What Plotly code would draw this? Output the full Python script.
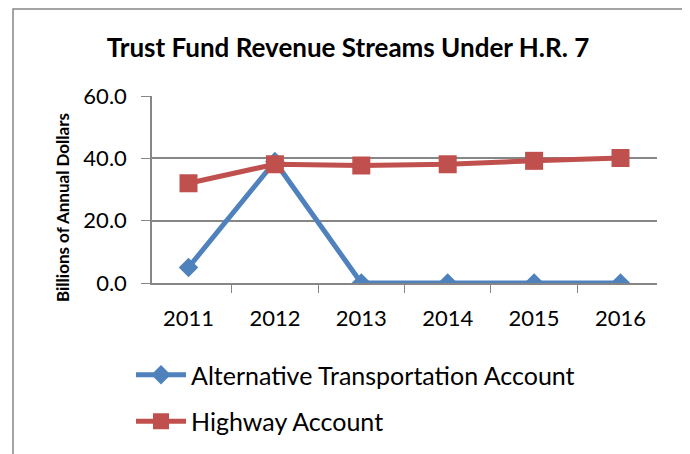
import plotly.graph_objects as go

years = ["2011", "2012", "2013", "2014", "2015", "2016"]
alt_transport = [5.0, 39.0, 0.0, 0.0, 0.0, 0.0]
highway = [32.0, 38.1, 37.7, 38.1, 39.2, 40.1]
y_ticks = [0, 20, 40, 60]

W, H = 690, 454
OFF = 8  # page body margin offset
# target pixel positions in the screenshot
PL, PR, PT, PB = 152, 657, 96, 283
L = PL - OFF
T = PT - OFF
R = W - (PR - OFF)
B = H - (PB - OFF)
pw, ph = W - L - R, H - T - B

def px(x):
    return (x - OFF - L) / pw

def py(y):
    return (H - B - (y - OFF)) / ph

fig = go.Figure()
fig.add_trace(go.Scatter(
    x=years, y=alt_transport, mode="lines+markers", name="Alternative Transportation Account",
    line=dict(color="#4F81BD", width=5), marker=dict(symbol="diamond", size=15, color="#4F81BD"),
    legendgroup="a"))
fig.add_trace(go.Scatter(
    x=years, y=highway, mode="lines+markers", name="Highway Account",
    line=dict(color="#C0504D", width=5), marker=dict(symbol="square", size=18, color="#C0504D"),
    legendgroup="b"))

font = "Lato, 'Open Sans', sans-serif"
fig.update_layout(
    width=W, height=H, margin=dict(l=L, r=R, t=T, b=B),
    paper_bgcolor="white", plot_bgcolor="white",
    font=dict(family=font, color="black", size=22),
    title=dict(text="<b>Trust Fund Revenue Streams Under H.R. 7</b>", x=(348 - OFF) / W, xanchor="center",
               y=1 - (48 - OFF) / H, yanchor="middle", font=dict(size=26)),
    xaxis=dict(type="category", tickson="boundaries", ticks="outside", ticklen=8, tickcolor="#868686",
               showline=True, linecolor="#868686", linewidth=1.5, showgrid=False,
               tickfont=dict(size=22), ticklabelstandoff=15, fixedrange=True),
    yaxis=dict(range=[0, 60], tickvals=y_ticks, tickformat=".1f", ticks="outside", ticklen=9,
               tickcolor="#868686", showline=True, linecolor="#868686", linewidth=1.5,
               gridcolor="#868686", gridwidth=1.5, zeroline=False, tickfont=dict(size=22),
               ticklabelstandoff=10),
    legend=dict(x=px(131), y=py(352), xanchor="left", yanchor="top", orientation="v",
                font=dict(size=25), tracegroupgap=11, itemwidth=50, bgcolor="rgba(0,0,0,0)"),
    showlegend=True,
)
fig.add_annotation(text="<b>Billions of Annual Dollars</b>", xref="paper", yref="paper",
                   x=px(62), y=py(208), textangle=-90, showarrow=False, font=dict(size=17),
                   xanchor="center", yanchor="middle")
fig.add_shape(type="rect", xref="paper", yref="paper", x0=px(13), x1=px(686), y0=py(480), y1=py(9),
              line=dict(color="#868686", width=1.5), layer="below")

fig.write_html("out.html")
